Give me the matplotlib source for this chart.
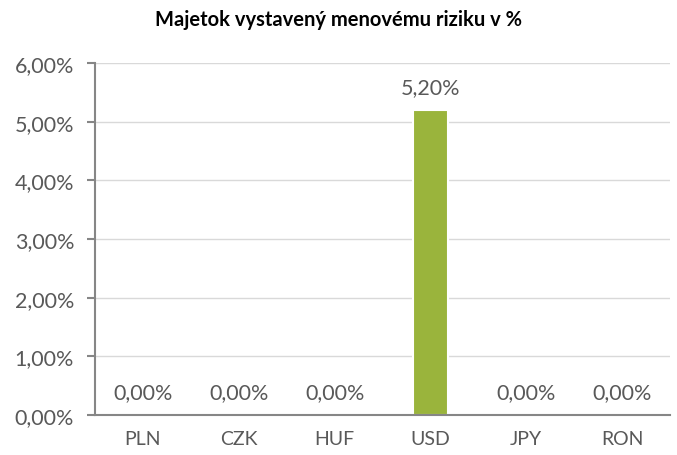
import matplotlib.pyplot as plt
from matplotlib.ticker import FuncFormatter

# Data
currencies = ["PLN", "CZK", "HUF", "USD", "JPY", "RON"]
shares = [0.0, 0.0, 0.0, 5.20, 0.0, 0.0]  # percent
y_ticks = [0, 1, 2, 3, 4, 5, 6]

plt.rcParams['font.family'] = ['Lato', 'DejaVu Sans']

fig = plt.figure(figsize=(6.77, 4.56), dpi=100)
ax = fig.add_axes([95 / 677, 40 / 456, 575 / 677, 352 / 456])

txt_col = "#595959"
x = list(range(len(currencies)))
edges = ["white" if v > 0 else "none" for v in shares]
ax.bar(x, shares, width=0.37, color="#9ab43c", edgecolor=edges,
       linewidth=1.5, zorder=3)

# Data labels
for xi, v in zip(x, shares):
    ax.text(xi, v + 0.22, f"{v:.2f}%".replace(".", ","), ha="center",
            va="bottom", fontsize=15.5, color=txt_col)

ax.set_xlim(-0.5, len(currencies) - 0.5)
ax.set_ylim(0, 6)
ax.set_yticks(y_ticks)
ax.yaxis.set_major_formatter(FuncFormatter(lambda v, p: f"{v:.2f}%".replace(".", ",")))
ax.set_xticks(x)
ax.set_xticklabels(currencies)

ax.grid(axis="y", color="#d9d9d9", linewidth=1, zorder=0)
ax.set_axisbelow(True)
for s in ["top", "right"]:
    ax.spines[s].set_visible(False)
for s in ["left", "bottom"]:
    ax.spines[s].set_color("#868686")
    ax.spines[s].set_linewidth(1.5)
    ax.spines[s].set_zorder(4)

ax.tick_params(axis="y", length=6, width=1.5, color="#868686", labelsize=15.5,
               labelcolor=txt_col, pad=9)
ax.tick_params(axis="x", length=0, labelsize=14, labelcolor=txt_col, pad=11)

fig.text(0.5, 1 - 20 / 456, "Majetok vystavený menovému riziku v %",
         ha="center", va="center", fontsize=14.5, fontweight="bold", color="black")

fig.savefig("out.png", dpi=100)
